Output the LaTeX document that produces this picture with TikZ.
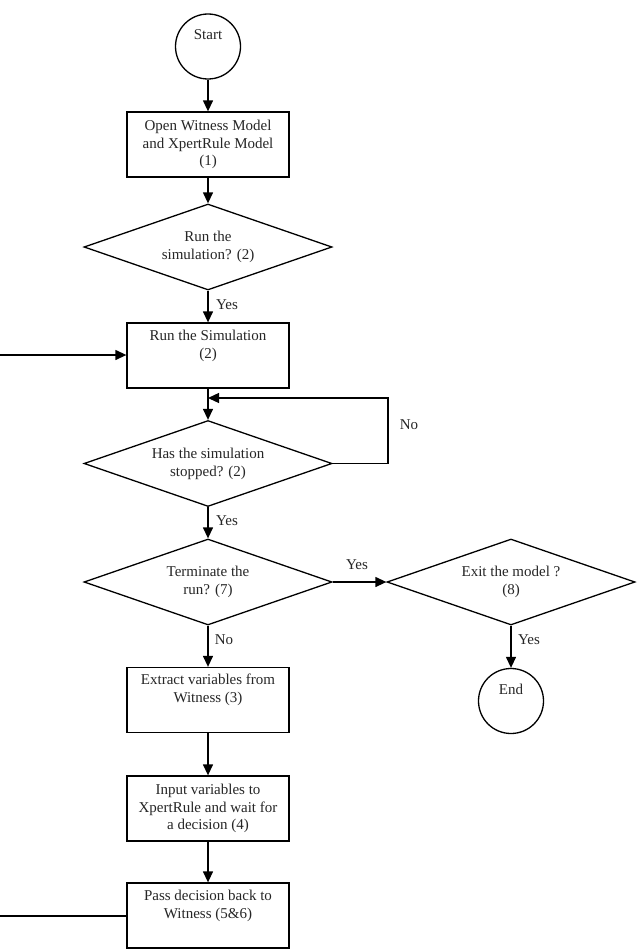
\documentclass[tikz,border=0pt]{standalone}
\usepackage{fontspec}
\setmainfont{Liberation Serif}
\usetikzlibrary{shapes.geometric,arrows.meta}
\begin{document}
\begin{tikzpicture}[x=1pt,y=-1pt,
  every node/.style={font=\fontsize{15}{17.8}\selectfont, text=black!85},
  procbox/.style={draw, line width=1.3pt, rectangle, minimum width=162pt, minimum height=65pt, inner sep=0pt, align=center},
  decbox/.style={draw, line width=1.3pt, diamond, aspect=2.88, minimum width=248pt, minimum height=86pt, inner sep=0pt, align=center},
  termbox/.style={draw, line width=1.3pt, circle, minimum size=65pt, inner sep=0pt, align=center},
  flow/.style={line width=1.3pt, -{Triangle[length=11pt,width=10pt]}},
  plain/.style={line width=1.3pt},
  lbl/.style={inner sep=1pt}
]
\useasboundingbox (0,0) rectangle (640,950);
\fill[white] (0,0) rectangle (640,950);

\node[termbox] (start) at (208,46.5) {Start\\\strut};
\node[procbox] (open) at (208,144.5) {Open Witness Model\\and XpertRule Model\\(1)};
\node[decbox] (run) at (208,247) {Run the\\simulation? (2)};
\node[procbox] (sim) at (208,355.5) {Run the Simulation\\(2)\\\strut};
\node[decbox] (stop) at (208,463.5) {Has the simulation\\stopped? (2)};
\node[decbox] (term) at (208,582) {Terminate the\\run? (7)};
\node[decbox] (exit) at (511,582) {Exit the model ?\\(8)};
\node[termbox] (end) at (511,701) {End\\\strut};
\node[procbox] (extract) at (208,700) {Extract variables from\\Witness (3)\\\strut};
\node[procbox] (input) at (208,808.5) {Input variables to\\XpertRule and wait for\\a decision (4)};
\node[procbox] (pass) at (208,915.5) {Pass decision back to\\Witness (5\&6)\\\strut};

\coordinate (loopR) at (388,463.5);
\coordinate (loopT) at (388,398);
\coordinate (loopE) at (208,398);
\coordinate (fbIn) at (0,355);
\coordinate (fbOut) at (0,916);

\draw[flow] (start) -- (open);
\draw[flow] (open) -- (run);
\draw[flow] (run) -- (sim);
\draw[flow] (sim) -- (stop);
\draw[flow] (stop.east) -- (loopR) -- (loopT) -- (loopE);
\draw[flow] (stop) -- (term);
\draw[flow] (term.east) -- (exit.west);
\draw[flow] (exit) -- (end);
\draw[flow] (term) -- (extract);
\draw[flow] (extract) -- (input);
\draw[flow] (input) -- (pass);
\draw[flow] (fbIn) -- (fbIn -| sim.west);
\draw[plain] (pass.west |- fbOut) -- (fbOut);

\node[lbl] (l1) at (227,305) {Yes};
\node[lbl] (l2) at (409,425) {No};
\node[lbl] (l3) at (227,521) {Yes};
\node[lbl] (l4) at (357,565) {Yes};
\node[lbl] (l5) at (224,640) {No};
\node[lbl] (l6) at (529,640) {Yes};
\end{tikzpicture}
\end{document}
